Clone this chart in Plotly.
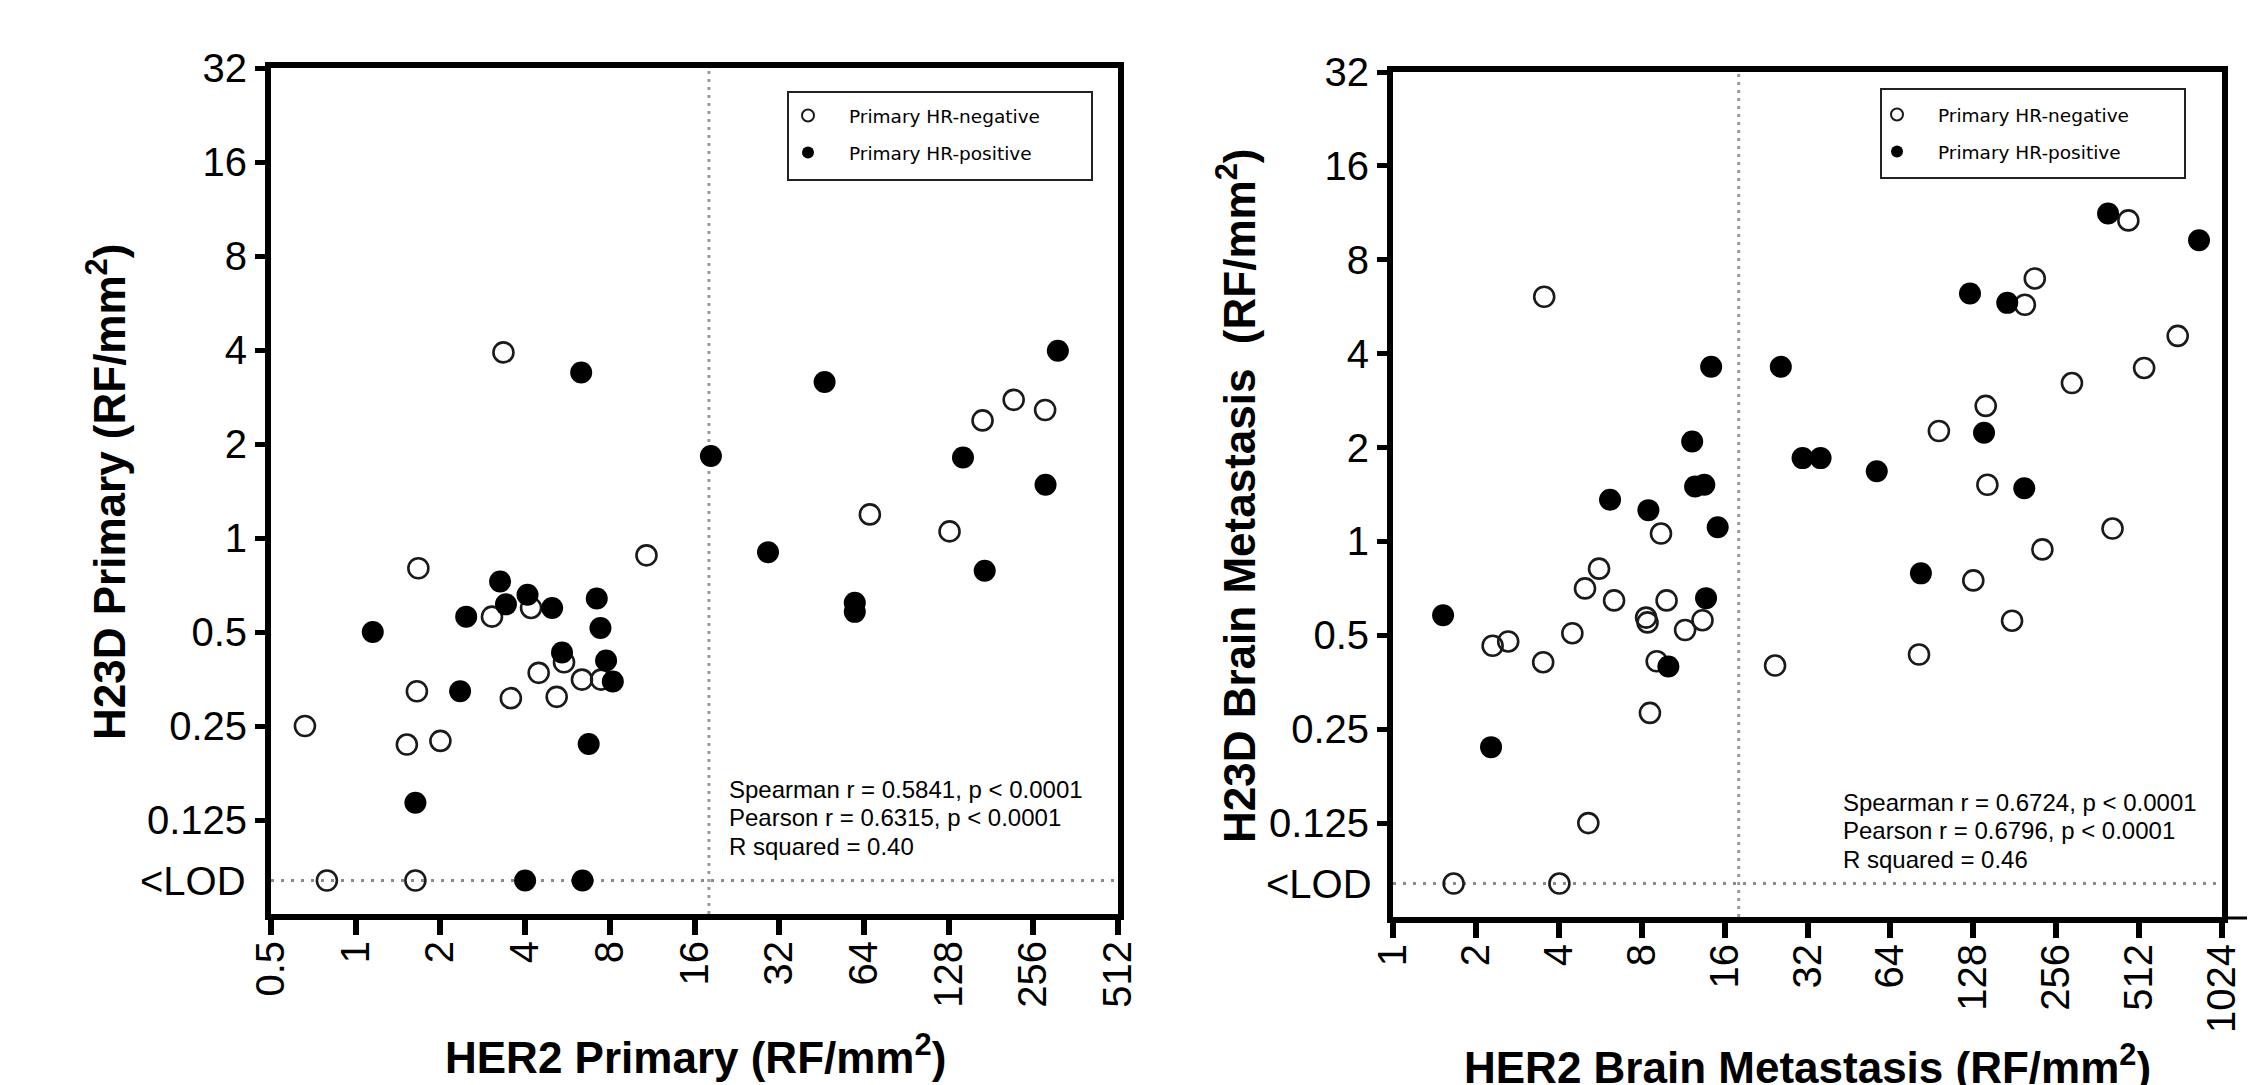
import math
import plotly.graph_objects as go

# the page body has an 8px margin, so the figure is placed at (8, 8) on screen
OFF = 8
W, H = 2258 - OFF, 1085 - OFF
LOD = "<LOD"
LOD_POS = 0.08  # plotting position of the <LOD row

# ---------------- data: Primary (left panel) ----------------
P_NEG_X = [3.35, 1.67, 10.8, 3.05, 4.2, 5.5, 4.47, 6.37, 7.45, 1.65, 3.56, 5.18, 0.66, 1.52, 2.0, 0.79, 1.63,
           218, 169, 282, 67.2, 129]
P_NEG_Y = [3.93, 0.80, 0.88, 0.56, 0.597, 0.40, 0.37, 0.352, 0.352, 0.323, 0.307, 0.31, 0.25, 0.218, 0.224, LOD, LOD,
           2.77, 2.38, 2.57, 1.19, 1.05]
P_POS_X = [6.33, 18.3, 3.26, 4.08, 3.42, 4.99, 7.19, 2.47, 1.15, 7.41, 5.41, 7.76, 8.2, 2.35, 6.73, 1.63, 4.0, 6.4,
           313, 46.4, 144, 283, 29.2, 172, 59.4, 59.4]
P_POS_Y = [3.39, 1.83, 0.726, 0.658, 0.613, 0.597, 0.64, 0.56, 0.50, 0.515, 0.43, 0.405, 0.347, 0.323, 0.219, 0.142,
           LOD, LOD, 3.98, 3.16, 1.81, 1.48, 0.90, 0.786, 0.62, 0.58]

# ---------------- data: Brain metastasis (right panel) ----------------
B_NEG_X = [3.54, 9.4, 5.6, 4.98, 6.35, 9.85, 8.3, 8.4, 13.3, 11.5, 2.30, 2.62, 4.48, 3.51, 9.07, 8.57, 24.4, 5.12,
           1.66, 4.02, 468, 214, 197, 707, 534, 292, 142, 96, 144, 410, 228, 128, 177, 81.3]
B_NEG_Y = [6.09, 1.06, 0.818, 0.707, 0.647, 0.647, 0.57, 0.55, 0.559, 0.52, 0.463, 0.478, 0.508, 0.41, 0.413, 0.282,
           0.40, 0.125, LOD, LOD, 10.7, 6.97, 5.74, 4.56, 3.6, 3.22, 2.72, 2.26, 1.52, 1.10, 0.943, 0.75, 0.557, 0.434]
B_POS_X = [14.3, 25.6, 12.2, 12.5, 13.5, 30.7, 6.14, 8.46, 15.1, 13.7, 10.0, 1.52, 2.27, 395, 845, 124.5, 170, 35.7,
           57.1, 140, 196, 82.6]
B_POS_Y = [3.63, 3.63, 2.09, 1.50, 1.52, 1.85, 1.36, 1.26, 1.11, 0.658, 0.397, 0.58, 0.219, 11.26, 9.24, 6.24, 5.82,
           1.85, 1.68, 2.23, 1.48, 0.79]

HER2_CUT = 18

Y_TICKS = [0.125, 0.25, 0.5, 1, 2, 4, 8, 16, 32]
Y_TICKTEXT = ["0.125", "0.25", "0.5", "1", "2", "4", "8", "16", "32"]
X1_TICKS = [0.5, 1, 2, 4, 8, 16, 32, 64, 128, 256, 512]
X1_TICKTEXT = ["0.5", "1", "2", "4", "8", "16", "32", "64", "128", "256", "512"]
X2_TICKS = [1, 2, 4, 8, 16, 32, 64, 128, 256, 512, 1024]
X2_TICKTEXT = ["1", "2", "4", "8", "16", "32", "64", "128", "256", "512", "1024"]

STATS_P = ["Spearman r = 0.5841, p < 0.0001", "Pearson r = 0.6315, p < 0.0001", "R squared = 0.40"]
STATS_B = ["Spearman r = 0.6724, p < 0.0001", "Pearson r = 0.6796, p < 0.0001", "R squared = 0.46"]


def fx(px):  # screen pixel -> paper fraction
    return (px - OFF) / W


def fy(py):
    return 1 - (py - OFF) / H


def ymap(vals):
    return [LOD_POS if v == LOD else v for v in vals]


FONT = "Liberation Sans, Arial, sans-serif"
fig = go.Figure()

neg_style = dict(symbol="circle-open", size=20, color="#1a1a1a", line=dict(width=2.6, color="#1a1a1a"))
pos_style = dict(symbol="circle", size=22, color="black", line=dict(width=0))

fig.add_trace(go.Scatter(x=P_NEG_X, y=ymap(P_NEG_Y), mode="markers", marker=neg_style,
                         name="Primary HR-negative", legend="legend", legendgroup="n1",
                         xaxis="x", yaxis="y"))
fig.add_trace(go.Scatter(x=P_POS_X, y=ymap(P_POS_Y), mode="markers", marker=pos_style,
                         name="Primary HR-positive", legend="legend", legendgroup="p1",
                         xaxis="x", yaxis="y"))
fig.add_trace(go.Scatter(x=B_NEG_X, y=ymap(B_NEG_Y), mode="markers", marker=neg_style,
                         name="Primary HR-negative", legend="legend2", legendgroup="n2",
                         xaxis="x2", yaxis="y2"))
fig.add_trace(go.Scatter(x=B_POS_X, y=ymap(B_POS_Y), mode="markers", marker=pos_style,
                         name="Primary HR-positive", legend="legend2", legendgroup="p2",
                         xaxis="x2", yaxis="y2"))

axis_common = dict(type="log", showgrid=False, zeroline=False, showline=True, linewidth=6,
                   linecolor="black", mirror=True, ticks="outside", tickcolor="black", automargin=False,
                   tickfont=dict(family=FONT, size=40, color="black"))

legend_font = dict(family="DejaVu Sans, sans-serif", size=18.5, color="black")
fig.update_layout(
    width=W, height=H, margin=dict(l=0, r=0, t=0, b=0, autoexpand=False),
    paper_bgcolor="white", plot_bgcolor="white",
    xaxis=dict(axis_common, domain=[fx(271), fx(1118)], anchor="y",
               range=[math.log10(0.5), math.log10(512)], tickvals=X1_TICKS, ticktext=X1_TICKTEXT,
               tickangle=-90, ticklen=15, tickwidth=6, ticklabelstandoff=-10),
    yaxis=dict(axis_common, domain=[fy(914), fy(68)], anchor="x",
               range=[math.log10(1 / 16), math.log10(32)], tickvals=Y_TICKS, ticktext=Y_TICKTEXT,
               ticklen=10, tickwidth=5),
    xaxis2=dict(axis_common, domain=[fx(1393), fx(2222)], anchor="y2",
                range=[math.log10(1), math.log10(1024)], tickvals=X2_TICKS, ticktext=X2_TICKTEXT,
                tickangle=-90, ticklen=15, tickwidth=6, ticklabelstandoff=-10),
    yaxis2=dict(axis_common, domain=[fy(917), fy(72)], anchor="x2",
                range=[math.log10(1 / 16), math.log10(32)], tickvals=Y_TICKS, ticktext=Y_TICKTEXT,
                ticklen=10, tickwidth=5),
    legend=dict(x=fx(767), y=fy(97), xanchor="left", yanchor="top", bgcolor="rgba(0,0,0,0)",
                borderwidth=0, itemsizing="constant", tracegroupgap=10, itemwidth=72, font=legend_font),
    legend2=dict(x=fx(1856), y=fy(96), xanchor="left", yanchor="top", bgcolor="rgba(0,0,0,0)",
                 borderwidth=0, itemsizing="constant", tracegroupgap=10, itemwidth=72, font=legend_font),
    showlegend=True,
)

shapes = []
for xa, ya in (("x", "y"), ("x2", "y2")):
    shapes.append(dict(type="line", xref=xa, yref=ya + " domain", x0=HER2_CUT, x1=HER2_CUT, y0=0, y1=1,
                       line=dict(color="#9a9a9a", width=3, dash="3px,5px"), layer="below"))
    shapes.append(dict(type="line", xref=xa + " domain", yref=ya, x0=0, x1=1, y0=LOD_POS, y1=LOD_POS,
                       line=dict(color="#8a8a8a", width=3, dash="3px,7px"), layer="below"))
# legend boxes
shapes.append(dict(type="rect", xref="paper", yref="paper", x0=fx(788), x1=fx(1092), y0=fy(180), y1=fy(92),
                   line=dict(color="#222", width=2)))
shapes.append(dict(type="rect", xref="paper", yref="paper", x0=fx(1881), x1=fx(2185), y0=fy(178), y1=fy(89),
                   line=dict(color="#222", width=2)))
# small stray dash at the right edge
shapes.append(dict(type="line", xref="paper", yref="paper", x0=fx(2227), x1=fx(2247), y0=fy(918), y1=fy(918),
                   line=dict(color="black", width=3)))
fig.update_layout(shapes=shapes)

ann = []
title_font = dict(family=FONT, size=44, color="black")
ann.append(dict(text="<b>H23D Primary (RF/mm<sup>2</sup>)</b>", xref="paper", yref="paper", x=fx(106), y=fy(492),
                textangle=-90, showarrow=False, font=title_font, xanchor="center", yanchor="middle"))
ann.append(dict(text="<b>HER2 Primary (RF/mm<sup>2</sup>)</b>", xref="paper", yref="paper", x=fx(695), y=fy(1054),
                showarrow=False, font=title_font, xanchor="center", yanchor="middle"))
ann.append(dict(text="<b>H23D Brain Metastasis  (RF/mm<sup>2</sup>)</b>", xref="paper", yref="paper",
                x=fx(1236), y=fy(496), textangle=-90, showarrow=False, font=title_font,
                xanchor="center", yanchor="middle"))
ann.append(dict(text="<b>HER2 Brain Metastasis (RF/mm<sup>2</sup>)</b>", xref="paper", yref="paper",
                x=fx(1807), y=fy(1064), showarrow=False, font=title_font, xanchor="center", yanchor="middle"))

stat_font = dict(family=FONT, size=24, color="black")
for i, line in enumerate(STATS_P):
    ann.append(dict(text=line, xref="paper", yref="paper", x=fx(727), y=fy(789 + 28.7 * i), showarrow=False,
                    font=stat_font, xanchor="left", yanchor="middle"))
for i, line in enumerate(STATS_B):
    ann.append(dict(text=line, xref="paper", yref="paper", x=fx(1841), y=fy(802 + 28.7 * i), showarrow=False,
                    font=stat_font, xanchor="left", yanchor="middle"))

tick_font = dict(family=FONT, size=40, color="black")
ann.append(dict(text="&lt;LOD", xref="paper", yref="y", x=fx(248), y=math.log10(LOD_POS), showarrow=False,
                font=tick_font, xanchor="right", yanchor="middle"))
ann.append(dict(text="&lt;LOD", xref="paper", yref="y2", x=fx(1374), y=math.log10(LOD_POS), showarrow=False,
                font=tick_font, xanchor="right", yanchor="middle"))
fig.update_layout(annotations=ann)

fig.write_html("out.html")
